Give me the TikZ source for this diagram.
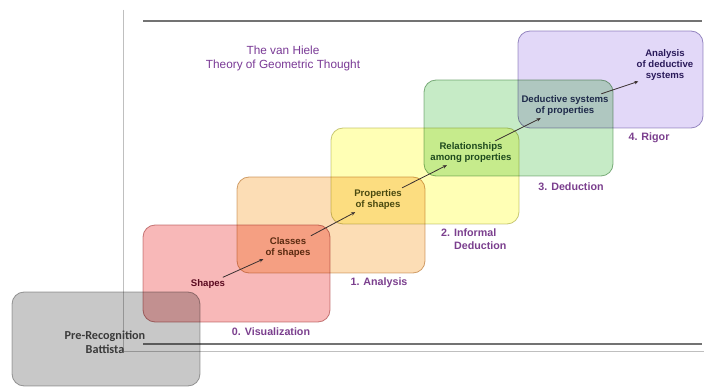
\documentclass[tikz,border=0pt]{standalone}
\usepackage{fontspec}
\setmainfont{Liberation Sans}
\newfontfamily\calib{Carlito}
\usetikzlibrary{arrows.meta}
\definecolor{ttl}{HTML}{7A3A96}
\definecolor{lvl}{HTML}{7B3F8E}
\definecolor{arr}{HTML}{3A3030}
\definecolor{redF}{HTML}{F8B8B8}\definecolor{redD}{HTML}{C88C8C}
\definecolor{oraF}{HTML}{FCDDB5}\definecolor{oraD}{HTML}{D2AA7C}
\definecolor{yelF}{HTML}{FFFFB5}\definecolor{yelD}{HTML}{C8C88C}
\definecolor{greF}{HTML}{C6EBC6}\definecolor{greD}{HTML}{8CB48C}
\definecolor{purF}{HTML}{E2D8F8}\definecolor{purD}{HTML}{A094C4}
\definecolor{graF}{HTML}{C8C8C8}\definecolor{graD}{HTML}{A8A8A8}
\definecolor{tShapes}{HTML}{5A0A20}
\definecolor{tClasses}{HTML}{5A2A10}
\definecolor{tProps}{HTML}{4A4A10}
\definecolor{tRels}{HTML}{1E4A1E}
\definecolor{tDeds}{HTML}{1E2A4A}
\definecolor{tAnal}{HTML}{2A1A5A}
\definecolor{tPre}{HTML}{3A3A3A}
\tikzset{
  box/.style={line width=0.8pt, rounded corners=12pt, blend mode=multiply},
  lab/.style={font=\fontsize{9.6}{11}\selectfont\bfseries, align=center, inner sep=2pt},
  lvlab/.style={font=\fontsize{10.7}{13}\selectfont\bfseries, text=lvl, inner sep=0pt},
  conn/.style={draw=arr, line width=0.8pt, -{Stealth[length=4pt,width=3.5pt]}},
}
\begin{document}
\begin{tikzpicture}[x=1pt,y=-1pt]
\useasboundingbox (0,0) rectangle (704,387);
\fill[white] (0,0) rectangle (704,387);
% frame
\draw[line width=0.6pt, draw=black!25] (123,10) -- (123,351) -- (704,351);
\draw[line width=1.1pt, draw=black!55] (143,21) -- (702,21);
\draw[line width=1.1pt, draw=black!55] (143,344) -- (702,344);
% title
\node[font=\fontsize{11.8}{14}\selectfont, text=ttl, align=center] (title) at (283,58) {The van Hiele\\Theory of Geometric Thought};
% boxes
\draw[box, fill=redF, draw=redD] (143,225) rectangle (330,322);
\draw[box, fill=oraF, draw=oraD] (237,177) rectangle (425,273);
\draw[box, fill=yelF, draw=yelD] (331,128) rectangle (519,224);
\draw[box, fill=greF, draw=greD] (424,80) rectangle (613,176);
\draw[box, fill=purF, draw=purD] (518,31) rectangle (703,128);
\draw[box, fill=graF, draw=graD] (12,292) rectangle (200,386);
% inner labels
\node[lab, text=tShapes] (shapes) at (208,284) {Shapes};
\node[lab, text=tClasses] (classes) at (288,248) {Classes\\of shapes};
\node[lab, text=tProps] (props) at (378,200) {Properties\\of shapes};
\node[lab, text=tRels] (rels) at (471,153) {Relationships\\among properties};
\node[lab, text=tDeds] (deds) at (565,106) {Deductive systems\\of properties};
\node[lab, text=tAnal] (anal) at (665,65) {Analysis\\of deductive\\systems};
% level labels
\node[lvlab] (l0) at (271,332) {0. Visualization};
\node[lvlab] (l1) at (379,283) {1. Analysis};
\node[lvlab, align=left, anchor=north west] (l2) at (441,229) {2. Informal\\\phantom{2. }Deduction};
\node[lvlab] (l3) at (571,187) {3. Deduction};
\node[lvlab] (l4) at (649,138) {4. Rigor};
% pre-recognition
\node[font=\calib\fontsize{12.2}{14}\selectfont\bfseries, text=tPre, align=center] (pre) at (105,342) {Pre-Recognition\\Battista};
% arrows
\draw[conn] (shapes) -- (classes);
\draw[conn] (classes) -- (props);
\draw[conn] (props) -- (rels);
\draw[conn] (rels) -- (deds);
\draw[conn, shorten >=-4pt] (deds) -- (anal.south west);
\end{tikzpicture}
\end{document}
